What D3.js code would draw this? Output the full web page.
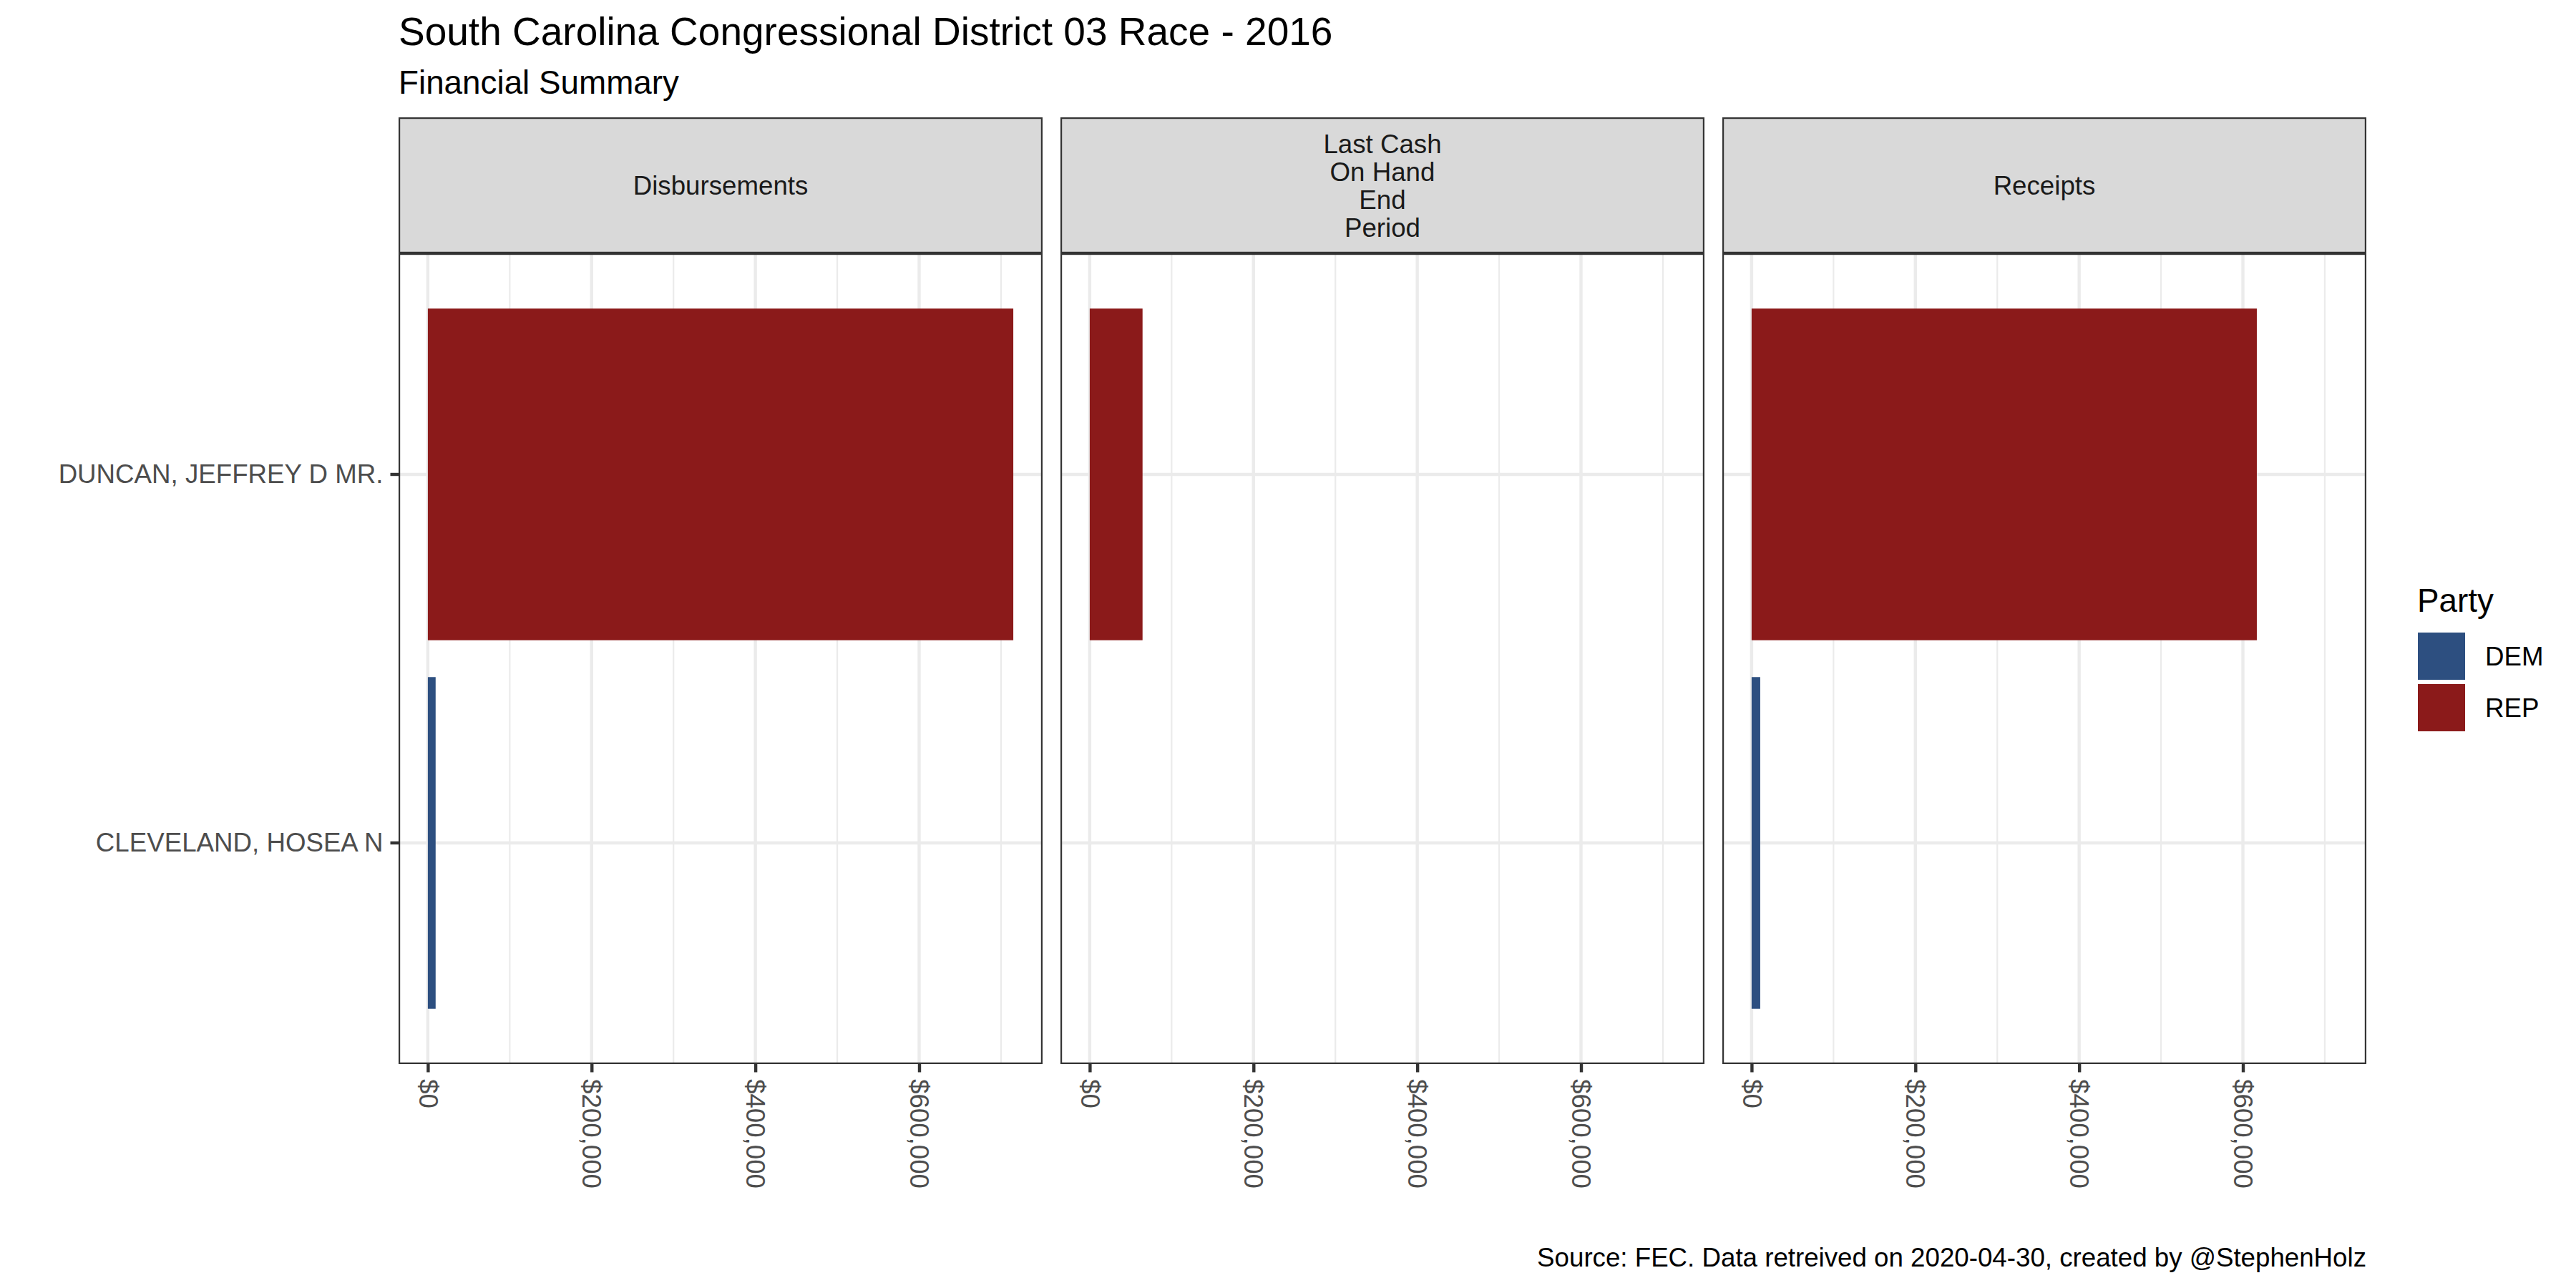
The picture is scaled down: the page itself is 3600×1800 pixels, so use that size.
<!DOCTYPE html>
<html lang="en">
<head>
<meta charset="UTF-8">
<title>SC-03 2016 Financial Summary</title>
<script src="https://cdn.jsdelivr.net/npm/d3@7"></script>
<style>
  body { margin: 0; background: #fff; }
  text { font-family: "Liberation Sans", Arial, sans-serif; }
</style>
</head>
<body>
<script>
// data
let candidates = ['DUNCAN, JEFFREY D MR.', 'CLEVELAND, HOSEA N'];
let parties = ['REP', 'DEM'];
let facets = ['Disbursements', 'Last Cash On Hand End Period', 'Receipts'];
let facetLabels = [['Disbursements'], ['Last Cash', 'On Hand', 'End', 'Period'], ['Receipts']];
let disbursements = [715000, 9500];
let cashOnHand = [64500, 0];
let receipts = [617000, 10500];
let tickValues = [0, 200000, 400000, 600000];
let minorValues = [100000, 300000, 500000, 700000];
let legendParties = ['DEM', 'REP'];
let partyColors = ['#2D4F80', '#8B1A1A'];

let W = 3600, H = 1800;
let pw = 900, gap = 25, left0 = 557;
let stripTop = 164, panelTop = 354, panelBottom = 1487;
let ph = panelBottom - panelTop;

let color = d3.scaleOrdinal().domain(legendParties).range(partyColors);

let values = [disbursements, cashOnHand, receipts];
let rows = [];
facets.forEach((f, i) => {
  candidates.forEach((c, j) => {
    rows.push({facet: i, cand: c, party: parties[j], value: values[i][j]});
  });
});

let maxV = d3.max(rows, d => d.value);
let x = d3.scaleLinear().domain([-0.05 * maxV, maxV * 1.05]).range([0, pw]);
let y = d3.scaleBand().domain(candidates).range([0, ph]).paddingInner(0.1).paddingOuter(0.15);

let svg = d3.select('body').append('svg')
  .attr('width', W).attr('height', H);

svg.append('rect').attr('width', W).attr('height', H).attr('fill', '#fff');

// titles
svg.append('text').attr('x', left0).attr('y', 63)
  .style('font-size', '55px').attr('fill', '#000')
  .text('South Carolina Congressional District 03 Race - 2016');
svg.append('text').attr('x', left0).attr('y', 131)
  .style('font-size', '45.8px').attr('fill', '#000')
  .text('Financial Summary');

facets.forEach((f, i) => {
  let px = left0 + i * (pw + gap);
  let g = svg.append('g').attr('transform', 'translate(' + px + ',' + panelTop + ')');

  // strip
  let sh = panelTop - stripTop;
  let strip = svg.append('g').attr('transform', 'translate(' + px + ',' + stripTop + ')');
  strip.append('rect').attr('width', pw).attr('height', sh).attr('fill', '#D9D9D9');
  let lines = facetLabels[i];
  let lh = 39;
  lines.forEach((l, k) => {
    strip.append('text')
      .attr('x', pw / 2)
      .attr('y', sh / 2 + 13 + (k - (lines.length - 1) / 2) * lh)
      .attr('text-anchor', 'middle')
      .style('font-size', '36.7px').attr('fill', '#1A1A1A')
      .text(l);
  });
  strip.append('rect').attr('x', 1.1).attr('y', 1.1)
    .attr('width', pw - 2.2).attr('height', sh - 2.2)
    .attr('fill', 'none').attr('stroke', '#333333').attr('stroke-width', 2.2);

  // grid
  g.selectAll('.minor').data(minorValues).enter().append('line')
    .attr('x1', d => x(d)).attr('x2', d => x(d))
    .attr('y1', 0).attr('y2', ph)
    .attr('stroke', '#EBEBEB').attr('stroke-width', 2.2);
  g.selectAll('.major').data(tickValues).enter().append('line')
    .attr('x1', d => x(d)).attr('x2', d => x(d))
    .attr('y1', 0).attr('y2', ph)
    .attr('stroke', '#EBEBEB').attr('stroke-width', 4.4);
  g.selectAll('.hmajor').data(candidates).enter().append('line')
    .attr('x1', 0).attr('x2', pw)
    .attr('y1', d => y(d) + y.bandwidth() / 2).attr('y2', d => y(d) + y.bandwidth() / 2)
    .attr('stroke', '#EBEBEB').attr('stroke-width', 4.4);

  // bars
  g.selectAll('.bar').data(rows.filter(r => r.facet === i)).enter().append('rect')
    .attr('x', d => x(Math.min(0, d.value)))
    .attr('y', d => y(d.cand))
    .attr('width', d => Math.abs(x(d.value) - x(0)))
    .attr('height', y.bandwidth())
    .attr('fill', d => color(d.party));

  // border
  g.append('rect').attr('x', 1.1).attr('y', 1.1)
    .attr('width', pw - 2.2).attr('height', ph - 2.2)
    .attr('fill', 'none').attr('stroke', '#333333').attr('stroke-width', 2.2);

  // x axis
  let xa = g.append('g').attr('transform', 'translate(0,' + ph + ')')
    .call(d3.axisBottom(x).tickValues(tickValues)
      .tickFormat(d => '$' + d3.format(',')(d)).tickSize(11.5));
  xa.select('.domain').remove();
  xa.selectAll('line').attr('stroke', '#333333').attr('stroke-width', 4.4);
  xa.selectAll('text')
    .attr('transform', 'rotate(90)')
    .attr('x', 21).attr('y', 0).attr('dy', '0.35em')
    .style('text-anchor', 'start')
    .style('font-size', '36.7px')
    .style('font-family', '"Liberation Sans", Arial, sans-serif')
    .attr('fill', '#4D4D4D');

  // y axis on the first panel
  if (i === 0) {
    let ya = g.append('g').call(d3.axisLeft(y).tickSize(11.5));
    ya.select('.domain').remove();
    ya.selectAll('line').attr('stroke', '#333333').attr('stroke-width', 4.4);
    ya.selectAll('text')
      .attr('x', -21.5)
      .style('font-size', '36.7px')
      .style('font-family', '"Liberation Sans", Arial, sans-serif')
      .attr('fill', '#4D4D4D');
  }
});

// legend
let lg = svg.append('g').attr('transform', 'translate(3378,0)');
lg.append('text').attr('x', 0).attr('y', 855)
  .style('font-size', '45.8px').attr('fill', '#000').text('Party');
legendParties.forEach((p, k) => {
  lg.append('rect').attr('x', 1).attr('y', 884 + k * 72)
    .attr('width', 66).attr('height', 66).attr('fill', color(p));
  lg.append('text').attr('x', 95).attr('y', 884 + k * 72 + 33 + 13)
    .style('font-size', '36.7px').attr('fill', '#000').text(p);
});

// caption
svg.append('text').attr('x', left0 + 3 * pw + 2 * gap).attr('y', 1770)
  .attr('text-anchor', 'end')
  .style('font-size', '36.7px').attr('fill', '#000')
  .text('Source: FEC. Data retreived on 2020-04-30, created by @StephenHolz');
</script>
</body>
</html>
